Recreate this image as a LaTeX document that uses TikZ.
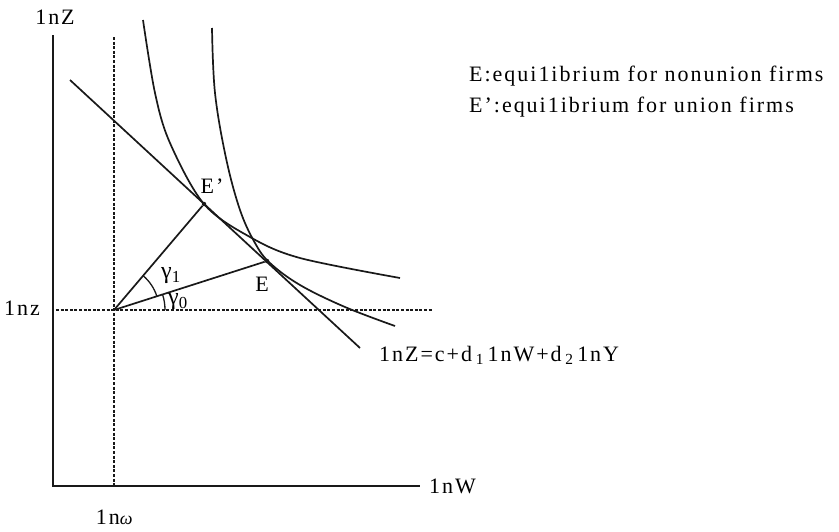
\documentclass[tikz,border=0pt]{standalone}
\usepackage{fontspec}
\setmainfont{Liberation Serif}[LetterSpace=9]
\usetikzlibrary{positioning}
\tikzset{
  axisline/.style={line width=1.8pt, black!90},
  guideline/.style={line width=1.4pt, black!90, dash pattern=on 3pt off 1.6pt},
  curveline/.style={line width=1.7pt, black!90},
  labeltext/.style={font=\fontsize{22}{26}\selectfont, inner sep=1pt},
  greektext/.style={font=\fontsize{24}{28}\selectfont, inner sep=1pt},
  eqpoint/.style={circle, fill=black!90, inner sep=0pt, minimum size=4.5pt}
}
\begin{document}
\begin{tikzpicture}[x=1pt,y=-1pt]
\useasboundingbox (0,0) rectangle (839,531);
% axes
\coordinate (orig) at (53,486);
\coordinate (ztop) at (53,35);
\coordinate (wend) at (420,486);
\draw[axisline] (ztop) -- (orig) -- (wend);
\node[labeltext] (zlab) at (55,17) {1nZ};
\node[labeltext, right=8pt of wend] (wlab) {1nW};
% reference levels
\coordinate (wtop) at (114,37);
\coordinate (wbot) at (114,486);
\coordinate (zleft) at (56,310);
\coordinate (zright) at (432,310);
\draw[guideline] (wtop) -- (wbot);
\draw[guideline] (zleft) -- (zright);
\node[labeltext] (omegalab) at (115,517) {1n{\fontsize{18}{20}\selectfont\textit{ω}}};
\node[labeltext] (zlowlab) at (22,308) {1nz};
% budget line
\coordinate (bstart) at (70,80);
\coordinate (bend) at (360,348);
\draw[curveline] (bstart) -- (bend);
% isoquants
\draw[curveline] plot[smooth, tension=0.55] coordinates
  {(143,20) (155,93) (170,143) (204,204) (250,237) (300,258) (400,278)};
\draw[curveline] plot[smooth, tension=0.6] coordinates
  {(212,28) (215,93) (226,158) (240,210) (255,243) (270,263) (300,285) (345,307) (395,326)};
% equilibria and rays
\coordinate (O) at (114,310);
\node[eqpoint] (Ep) at (204,204) {};
\node[eqpoint] (E) at (267,261) {};
\draw[curveline] (O) -- (Ep);
\draw[curveline] (O) -- (E);
\node[labeltext] (Eplab) at (212,186) {E'};
\node[labeltext] (Elab) at (262,284) {E};
\draw[curveline, line width=1.3pt] (O) ++(0:51) arc[start angle=0, end angle=-17.8, radius=51];
\draw[curveline, line width=1.3pt] (O) ++(-17.8:45) arc[start angle=-17.8, end angle=-49.7, radius=45];
\node[greektext] (g1lab) at (171,276) {γ\textsubscript{1}};
\node[greektext] (g0lab) at (178,302) {γ\textsubscript{0}};
% legend and equation
\node[labeltext, anchor=west] (leg1) at (468,76) {E:equi1ibrium for nonunion firms};
\node[labeltext, anchor=west] (leg2) at (468,107) {E':equi1ibrium for union firms};
\node[labeltext, anchor=west] (eqlab) at (378,355) {1nZ=c+d\,\textsubscript{1}\,1nW+d\,\textsubscript{2}\,1nY};
\end{tikzpicture}
\end{document}
